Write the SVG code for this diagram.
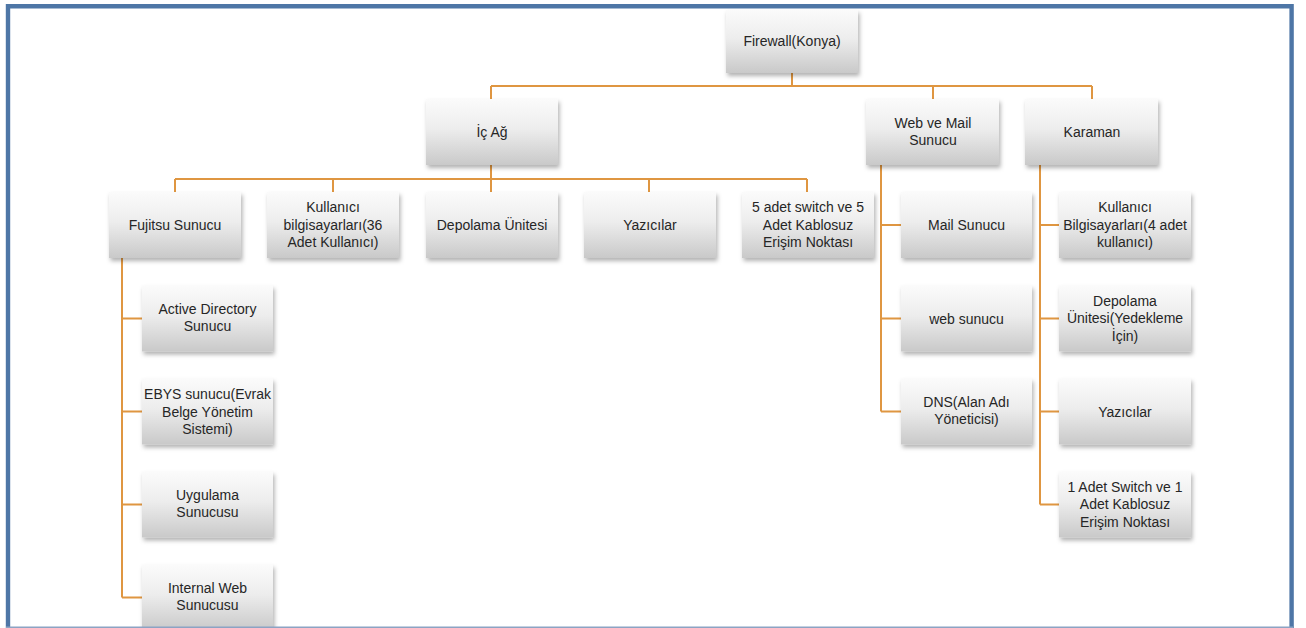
<svg xmlns="http://www.w3.org/2000/svg" width="1306" height="628" viewBox="0 0 1306 628">
<style>
.box{fill:url(#g);filter:url(#sh)}
.t{font-family:"Liberation Sans",Arial,sans-serif;font-size:14px;fill:#262626;text-anchor:middle}
.c{fill:none;stroke:#DF9641;stroke-width:2}
</style>
<defs>
<linearGradient id="g" x1="0" y1="0" x2="0" y2="1">
<stop offset="0" stop-color="#FBFBFB"/>
<stop offset="0.45" stop-color="#EDEDED"/>
<stop offset="1" stop-color="#C9C9C9"/>
</linearGradient>
<filter id="sh" x="-10%" y="-10%" width="125%" height="135%">
<feDropShadow dx="1.5" dy="3" stdDeviation="2" flood-color="#000" flood-opacity="0.3"/>
</filter>
</defs>
<rect width="1306" height="628" fill="#fff"/>
<g id="connectors">
<path class="c" d="M792 73V86M491 86H1092M491 86V99M933 86V99M1092 86V99"/>
<path class="c" d="M491 165V179M175 179H807M175 179V192M333 179V192M491 179V192M649 179V192M807 179V192"/>
<path class="c" d="M122 258V597.5M122 318.5H142M122 411.5H142M122 504.5H142M122 597.5H142"/>
<path class="c" d="M881 165V411.5M881 225H901M881 318.5H901M881 411.5H901"/>
<path class="c" d="M1040 165V504.5M1040 225H1059M1040 318.5H1059M1040 411.5H1059M1040 504.5H1059"/>
</g>
<g id="firewall"><rect class="box" x="726" y="10" width="132" height="63"/><text class="t" x="792" y="46">Firewall(Konya)</text></g>
<g id="ic-ag"><rect class="box" x="426" y="99" width="132" height="66"/><text class="t" x="492" y="137">İç Ağ</text></g>
<g id="web-mail"><rect class="box" x="866" y="99" width="133" height="66"/><text class="t" x="933" y="128">Web ve Mail</text><text class="t" x="933" y="145">Sunucu</text></g>
<g id="karaman"><rect class="box" x="1025" y="99" width="133" height="66"/><text class="t" x="1092" y="137">Karaman</text></g>
<g id="fujitsu"><rect class="box" x="109" y="192" width="132" height="66"/><text class="t" x="175" y="230">Fujitsu Sunucu</text></g>
<g id="kullanici"><rect class="box" x="267" y="192" width="132" height="66"/><text class="t" x="333" y="212">Kullanıcı</text><text class="t" x="333" y="229.5">bilgisayarları(36</text><text class="t" x="333" y="247">Adet Kullanıcı)</text></g>
<g id="depolama"><rect class="box" x="426" y="192" width="132" height="66"/><text class="t" x="492" y="230">Depolama Ünitesi</text></g>
<g id="yazicilar"><rect class="box" x="584" y="192" width="132" height="66"/><text class="t" x="650" y="230">Yazıcılar</text></g>
<g id="switch5"><rect class="box" x="742" y="192" width="132" height="66"/><text class="t" x="808" y="212">5 adet switch ve 5</text><text class="t" x="808" y="229.5">Adet Kablosuz</text><text class="t" x="808" y="247">Erişim Noktası</text></g>
<g id="active-directory"><rect class="box" x="142" y="285.5" width="131" height="66"/><text class="t" x="207.5" y="314">Active Directory</text><text class="t" x="207.5" y="331">Sunucu</text></g>
<g id="ebys"><rect class="box" x="142" y="378.5" width="131" height="66"/><text class="t" x="207.5" y="399">EBYS sunucu(Evrak</text><text class="t" x="207.5" y="416.5">Belge Yönetim</text><text class="t" x="207.5" y="434">Sistemi)</text></g>
<g id="uygulama"><rect class="box" x="142" y="471.5" width="131" height="66"/><text class="t" x="207.5" y="500">Uygulama</text><text class="t" x="207.5" y="517">Sunucusu</text></g>
<g id="internal-web"><rect class="box" x="142" y="564.5" width="131" height="66"/><text class="t" x="207.5" y="593">Internal Web</text><text class="t" x="207.5" y="610">Sunucusu</text></g>
<g id="mail-sunucu"><rect class="box" x="901" y="192" width="131" height="66"/><text class="t" x="966.5" y="230">Mail Sunucu</text></g>
<g id="web-sunucu"><rect class="box" x="901" y="285.5" width="131" height="66"/><text class="t" x="966.5" y="323.5">web sunucu</text></g>
<g id="dns"><rect class="box" x="901" y="378.5" width="131" height="66"/><text class="t" x="966.5" y="407">DNS(Alan Adı</text><text class="t" x="966.5" y="424">Yöneticisi)</text></g>
<g id="k-kullanici"><rect class="box" x="1059" y="192" width="132" height="66"/><text class="t" x="1125" y="212">Kullanıcı</text><text class="t" x="1125" y="229.5">Bilgisayarları(4 adet</text><text class="t" x="1125" y="247">kullanıcı)</text></g>
<g id="k-depolama"><rect class="box" x="1059" y="285.5" width="132" height="66"/><text class="t" x="1125" y="305.5">Depolama</text><text class="t" x="1125" y="323">Ünitesi(Yedekleme</text><text class="t" x="1125" y="340.5">İçin)</text></g>
<g id="k-yazicilar"><rect class="box" x="1059" y="378.5" width="132" height="66"/><text class="t" x="1125" y="416.5">Yazıcılar</text></g>
<g id="k-switch"><rect class="box" x="1059" y="471.5" width="132" height="66"/><text class="t" x="1125" y="491.5">1 Adet Switch ve 1</text><text class="t" x="1125" y="509">Adet Kablosuz</text><text class="t" x="1125" y="526.5">Erişim Noktası</text></g>
<path d="M8 630V6.2H1291.6V630" fill="none" stroke="#4E76A6" stroke-width="4.4"/>
<line x1="6" y1="627.3" x2="1293" y2="627.3" stroke="#8CA3C3" stroke-width="1.4"/>
</svg>
